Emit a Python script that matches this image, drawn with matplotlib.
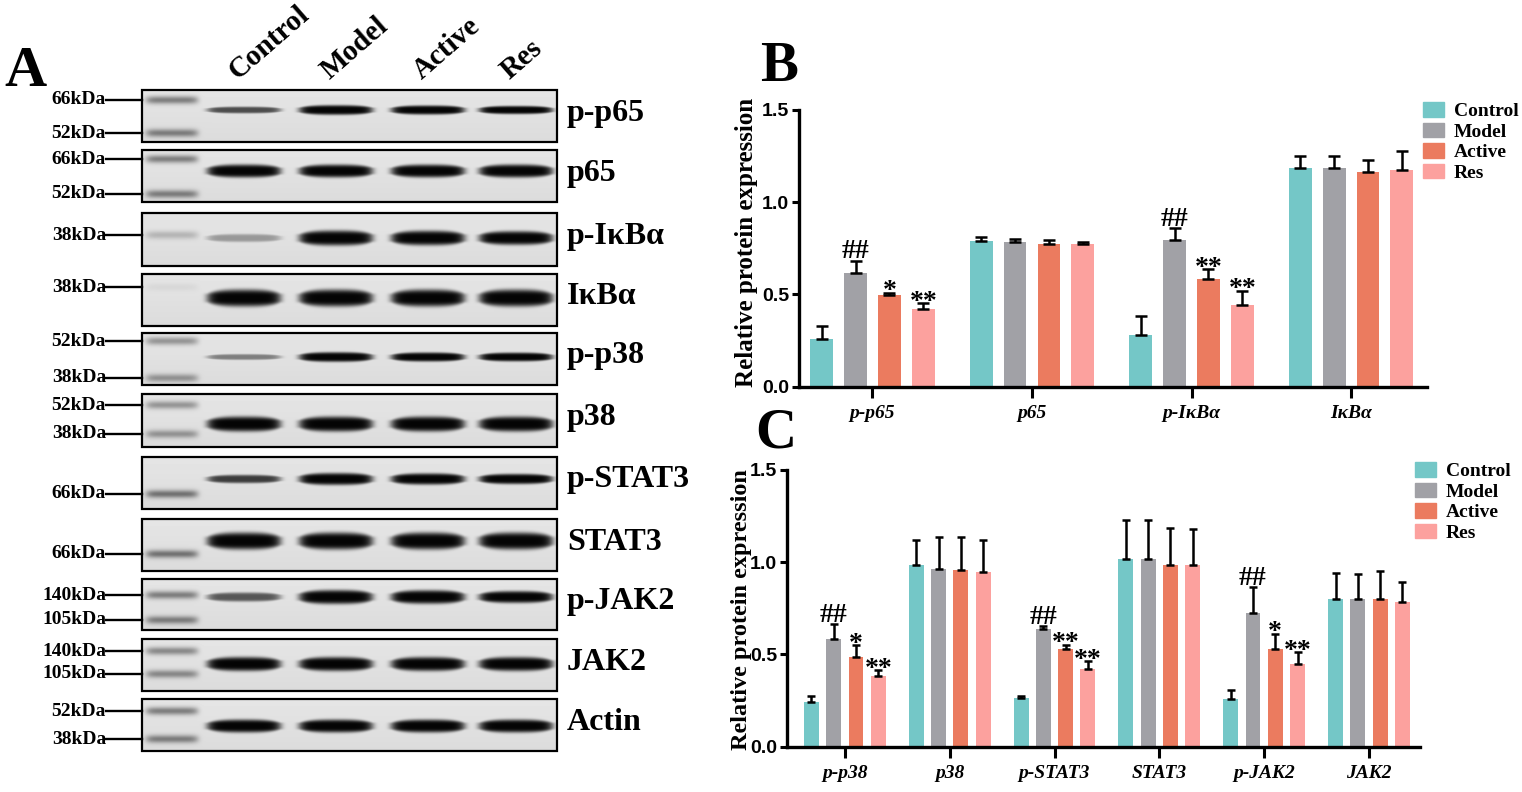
import matplotlib
matplotlib.use('Agg')
import matplotlib.pyplot as plt
import numpy as np
from matplotlib.patches import Rectangle, Patch

plt.rcParams['font.family'] = ['Liberation Serif', 'DejaVu Serif']
plt.rcParams['font.weight'] = 'bold'

# ---------------- data ----------------
groups = ['Control', 'Model', 'Active', 'Res']
colors = ['#74C7C7', '#A1A1A6', '#EB7B5F', '#FCA19E']

# panel A: blot rows
proteins = ['p-p65', 'p65', 'p-IκBα', 'IκBα', 'p-p38', 'p38',
            'p-STAT3', 'STAT3', 'p-JAK2', 'JAK2', 'Actin']
band_strength = [
    [0.45, 0.95, 0.85, 0.70],
    [1.00, 0.98, 0.98, 1.00],
    [0.22, 1.00, 0.95, 0.85],
    [1.00, 1.00, 1.00, 1.00],
    [0.30, 0.95, 0.85, 0.80],
    [1.00, 1.00, 1.00, 1.00],
    [0.50, 1.00, 0.90, 0.75],
    [1.00, 1.00, 1.00, 1.00],
    [0.42, 1.00, 0.95, 0.75],
    [1.00, 1.00, 1.00, 1.00],
    [1.00, 1.00, 1.00, 1.00],
]
marker_labels = [['66kDa', '52kDa'], ['66kDa', '52kDa'], ['38kDa'], ['38kDa'],
                 ['52kDa', '38kDa'], ['52kDa', '38kDa'], ['66kDa'], ['66kDa'],
                 ['140kDa', '105kDa'], ['140kDa', '105kDa'], ['52kDa', '38kDa']]

# panel B
b_targets = ['p-p65', 'p65', 'p-IκBα', 'IκBα']
b_control = [0.258, 0.789, 0.279, 1.184]
b_model = [0.617, 0.787, 0.794, 1.184]
b_active = [0.499, 0.776, 0.586, 1.163]
b_res = [0.423, 0.773, 0.443, 1.174]
b_control_sd = [0.072, 0.022, 0.106, 0.066]
b_model_sd = [0.067, 0.013, 0.068, 0.066]
b_active_sd = [0.011, 0.020, 0.052, 0.065]
b_res_sd = [0.029, 0.012, 0.078, 0.103]
b_marks = [['', '', '', ''], ['##', '', '##', ''], ['*', '', '**', ''], ['**', '', '**', '']]

# panel C
c_targets = ['p-p38', 'p38', 'p-STAT3', 'STAT3', 'p-JAK2', 'JAK2']
c_control = [0.240, 0.985, 0.266, 1.018, 0.257, 0.802]
c_model = [0.586, 0.963, 0.640, 1.018, 0.723, 0.799]
c_active = [0.486, 0.956, 0.530, 0.983, 0.530, 0.799]
c_res = [0.383, 0.946, 0.423, 0.985, 0.446, 0.787]
c_control_sd = [0.035, 0.135, 0.011, 0.211, 0.052, 0.138]
c_model_sd = [0.077, 0.176, 0.012, 0.209, 0.144, 0.139]
c_active_sd = [0.065, 0.183, 0.023, 0.201, 0.083, 0.154]
c_res_sd = [0.033, 0.174, 0.040, 0.193, 0.067, 0.106]
c_marks = [['', '', '', '', '', ''], ['##', '', '##', '', '##', ''],
           ['*', '', '**', '', '*', ''], ['**', '', '**', '', '**', '']]

# ---------------- layout (pixels) ----------------
W, H = 1522, 792
box_x0, box_x1 = 142, 557
row_top = [90, 150, 213, 274, 333, 394, 457, 519, 579, 639, 699]
row_bot = [142, 202, 266, 326, 385, 447, 509, 571, 630, 691, 751]
band_y = [110, 171, 238, 298, 357, 424, 479, 541, 597, 664, 726]
band_half = [5.0, 6.5, 7.5, 8.5, 5.0, 7.5, 6.0, 8.5, 7.0, 7.0, 6.5]
marker_y = [[100, 133], [159, 194], [235], [287], [341, 378], [405, 434],
            [494], [554], [595, 620], [651, 674], [711, 739]]
marker_dark = [0.45, 0.45, 0.2, 0.05, 0.35, 0.35, 0.5, 0.5, 0.45, 0.4, 0.45]
lane_x = [244, 336, 428, 516]

fig = plt.figure(figsize=(W / 100, H / 100), dpi=100)
ov = fig.add_axes([0, 0, 1, 1])
ov.set_xlim(0, W)
ov.set_ylim(H, 0)
ov.axis('off')


def blot_row(i):
    top, bot = row_top[i], row_bot[i]
    xs = np.arange(box_x0, box_x1) + 0.5
    ys = np.arange(top, bot) + 0.5
    X, Y = np.meshgrid(xs, ys)
    bg = 0.90 - 0.04 * (Y - top) / (bot - top)
    dark = np.zeros_like(X)
    for s, cx in zip(band_strength[i], lane_x):
        u = (X - cx) / 37.0
        half = band_half[i] * (0.4 + 0.6 * s) * (1 - 0.45 * np.clip(np.abs(u), 0, 1) ** 3)
        prof = np.exp(-u ** 10) * np.exp(-np.abs((Y - band_y[i]) / half) ** 4)
        dark = np.maximum(dark, min(1.0, 1.5 * s) * prof)
    for my in marker_y[i]:
        prof = np.exp(-((X - 172) / 26.0) ** 8) * np.exp(-((Y - my) / 4.0) ** 2)
        dark = np.maximum(dark, marker_dark[i] * prof)
    img = bg * (1 - 0.98 * dark)
    ov.imshow(img, cmap='gray', vmin=0, vmax=1, extent=(box_x0, box_x1, bot, top),
              interpolation='bilinear', aspect='auto', zorder=1)
    ov.add_patch(Rectangle((box_x0, top), box_x1 - box_x0, bot - top, fill=False,
                           ec='black', lw=1.6, zorder=2))
    for lab, my in zip(marker_labels[i], marker_y[i]):
        ov.text(106, my, lab, ha='right', va='center', fontsize=14, fontweight='bold')
        ov.plot([106, box_x0], [my, my], color='black', lw=1.7, zorder=3)
    ov.text(567, (top + bot) / 2 - 3, proteins[i], ha='left', va='center',
            fontsize=23, fontweight='bold')


for i in range(len(proteins)):
    blot_row(i)
ov.set_xlim(0, W)
ov.set_ylim(H, 0)

for g, cx in zip(groups, lane_x):
    ov.text(cx - 6, 80, g, rotation=41, rotation_mode='anchor', ha='left',
            va='baseline', fontsize=21, fontweight='bold')

ov.text(4, 86, 'A', fontsize=42, fontweight='bold', va='baseline')
ov.text(760, 81, 'B', fontsize=41, fontweight='bold', va='baseline')
ov.text(755, 447, 'C', fontsize=41, fontweight='bold', va='baseline')
ov.text(746, 242, 'Relative protein expression', rotation=90, ha='center',
        va='center', fontsize=18, fontweight='bold')
ov.text(741, 610, 'Relative protein expression', rotation=90, ha='center',
        va='center', fontsize=17.5, fontweight='bold')


def bar_panel(rect, targets, means, sds, marks, xlim, capsize, legend_xy):
    ax = fig.add_axes(rect)
    x = np.arange(len(targets))
    width, step = 0.143, 0.2125
    for k in range(4):
        pos = x + (k - 1.5) * step
        ax.bar(pos, means[k], width, color=colors[k], label=groups[k],
               yerr=[np.zeros(len(targets)), sds[k]], capsize=capsize,
               error_kw=dict(elinewidth=1.8, capthick=1.8, ecolor='black'), zorder=2)
        for p, m, s, t in zip(pos, means[k], sds[k], marks[k]):
            if t:
                off = 1.5 if t == '##' else -4
                ax.annotate(t, (p, m + s), xytext=(0, off), textcoords='offset points',
                            ha='center', va='baseline', fontsize=20, fontweight='bold')
    ax.set_xlim(*xlim)
    ax.set_ylim(0, 1.5)
    ax.set_yticks([0, 0.5, 1.0, 1.5])
    ax.set_yticklabels(['0.0', '0.5', '1.0', '1.5'],
                       family=['Liberation Sans Narrow', 'Liberation Sans'],
                       fontweight='bold', fontsize=14)
    ax.set_xticks(x)
    ax.set_xticklabels(targets, style='italic', fontweight='bold', fontsize=14)
    ax.tick_params(axis='y', length=5, width=2.2, pad=2)
    ax.tick_params(axis='x', length=8, width=2.2, pad=5)
    for side in ['top', 'right']:
        ax.spines[side].set_visible(False)
    for side in ['left', 'bottom']:
        ax.spines[side].set_linewidth(2.4)
    ax.patch.set_alpha(0)
    handles = [Patch(color=c, label=g) for c, g in zip(colors, groups)]
    ax.legend(handles=handles, loc='upper left', bbox_to_anchor=legend_xy,
              bbox_transform=fig.transFigure, frameon=False, fontsize=14,
              handlelength=1.1, handleheight=0.8, handletextpad=0.5,
              labelspacing=0.12, borderpad=0, borderaxespad=0)
    return ax


bar_panel([798.8 / W, 1 - 386.7 / H, (1426.5 - 798.8) / W, (386.7 - 110) / H],
          b_targets, [b_control, b_model, b_active, b_res],
          [b_control_sd, b_model_sd, b_active_sd, b_res_sd], b_marks,
          (-0.462, 3.473), 4, (1423 / W, 1 - 102 / H))
bar_panel([786.9 / W, 1 - 746.7 / H, (1420 - 786.9) / W, (746.7 - 470) / H],
          c_targets, [c_control, c_model, c_active, c_res],
          [c_control_sd, c_model_sd, c_active_sd, c_res_sd], c_marks,
          (-0.553, 5.487), 3, (1415 / W, 1 - 462 / H))

fig.savefig('out.png', dpi=100)
